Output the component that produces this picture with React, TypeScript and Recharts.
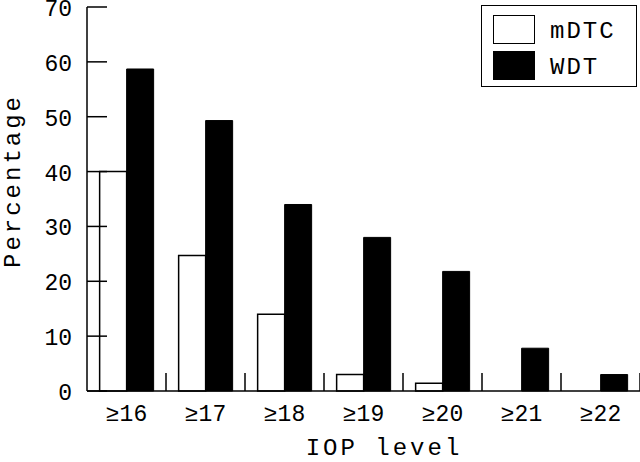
import React from 'react';
import { BarChart, Bar, XAxis, YAxis, Legend, Label } from 'recharts';

const categories = ['≥16', '≥17', '≥18', '≥19', '≥20', '≥21', '≥22'];
const mDTC = [40, 24.7, 14, 3, 1.4, 0, 0];
const WDT = [58.7, 49.3, 34, 28, 21.8, 7.8, 3];
const yTicks = [0, 10, 20, 30, 40, 50, 60, 70];

const data = categories.map((c, i) => ({ cat: c, mDTC: mDTC[i], WDT: WDT[i] }));

const W = 640;
const H = 462;
const LEFT = 87;
const TOP = 7;
const BOTTOM = 391;
const FONT = '"Liberation Mono", "DejaVu Sans Mono", monospace';
const BAND = (W - LEFT) / categories.length;

const YTick = (props: any) => {
  const y = props.payload.coordinate;
  return (
    <g>
      <line x1={LEFT} x2={LEFT + 20} y1={y} y2={y} stroke="#000" strokeWidth={1.5} />
      <text x={LEFT - 15} y={y} dy={9} textAnchor="end" fontFamily={FONT} fontSize={23} fill="#000">
        {props.payload.value}
      </text>
    </g>
  );
};

const XTick = (props: any) => {
  const x = props.payload.coordinate;
  return (
    <g>
      <line x1={x + BAND / 2} x2={x + BAND / 2} y1={BOTTOM} y2={BOTTOM - 18} stroke="#000" strokeWidth={1.5} />
      <text x={x} y={BOTTOM + 30} textAnchor="middle" fontFamily={FONT} fontSize={23} fill="#000">
        {props.payload.value}
      </text>
    </g>
  );
};

const LegendBox = () => (
  <div
    style={{
      border: '1.5px solid #000',
      width: 156,
      height: 82,
      boxSizing: 'border-box',
      padding: '9px 0 0 11px',
      fontFamily: FONT,
      fontSize: 24,
      background: '#fff',
      lineHeight: 1,
      textAlign: 'left',
    }}
  >
    {[
      { name: 'mDTC', fill: '#fff' },
      { name: 'WDT', fill: '#000' },
    ].map((s) => (
      <div key={s.name} style={{ display: 'flex', alignItems: 'center', height: 29, marginBottom: 7 }}>
        <div style={{ width: 42, height: 29, background: s.fill, border: '1.5px solid #000', boxSizing: 'border-box' }} />
        <span style={{ marginLeft: 15, letterSpacing: 2, marginTop: 4 }}>{s.name}</span>
      </div>
    ))}
  </div>
);

export default function App() {
  return (
    <div style={{ position: 'absolute', left: 0, top: 0, width: W, height: H, background: '#fff' }}>
      <BarChart
        width={W}
        height={H}
        data={data}
        margin={{ top: TOP, right: 0, bottom: 0, left: 0 }}
        barCategoryGap="16%"
        barGap={0}
      >
        <XAxis
          dataKey="cat"
          height={H - BOTTOM}
          tickLine={false}
          axisLine={{ stroke: '#000', strokeWidth: 1.5 }}
          tick={<XTick />}
          interval={0}
        >
          <Label
            content={() => (
              <text x={384} y={455} textAnchor="middle" fontFamily={FONT} fontSize={24} letterSpacing={3} fill="#000">
                IOP level
              </text>
            )}
          />
        </XAxis>
        <YAxis
          width={LEFT}
          domain={[0, 70]}
          ticks={yTicks}
          tickLine={false}
          axisLine={{ stroke: '#000', strokeWidth: 1.5 }}
          tick={<YTick />}
        >
          <Label
            content={() => (
              <text
                x={20}
                y={181}
                transform="rotate(-90 20 181)"
                textAnchor="middle"
                fontFamily={FONT}
                fontSize={24}
                letterSpacing={3}
                fill="#000"
              >
                Percentage
              </text>
            )}
          />
        </YAxis>
        <Legend
          layout="horizontal"
          verticalAlign="middle"
          align="center"
          content={<LegendBox />}
          wrapperStyle={{ position: 'absolute', top: 5, left: 481, width: 156 }}
        />
        <Bar dataKey="mDTC" fill="#fff" stroke="#000" strokeWidth={1.5} isAnimationActive={false} />
        <Bar dataKey="WDT" fill="#000" stroke="#000" strokeWidth={1} isAnimationActive={false} />
      </BarChart>
    </div>
  );
}
